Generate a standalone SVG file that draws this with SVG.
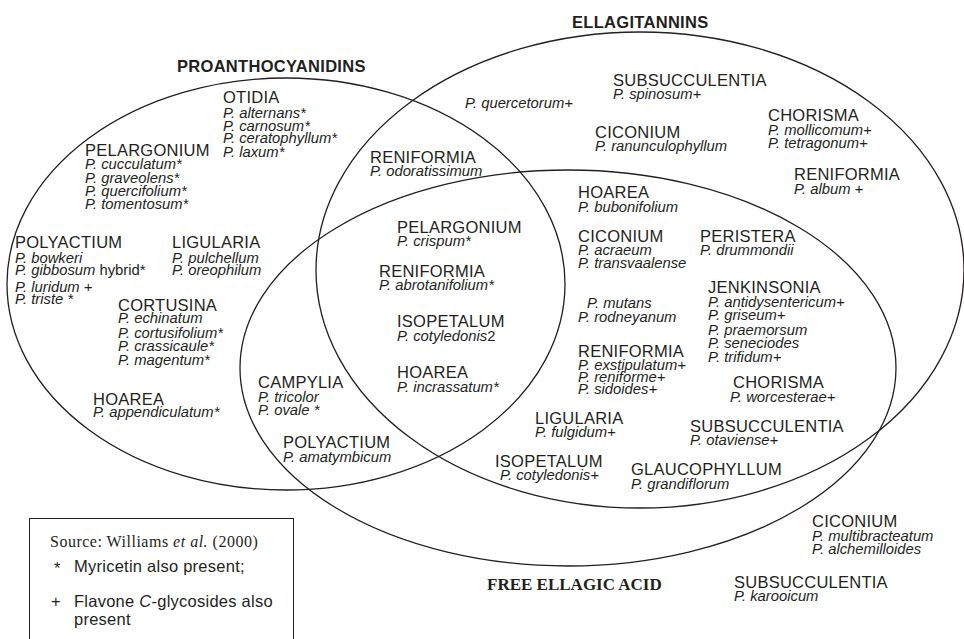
<svg xmlns="http://www.w3.org/2000/svg" width="964" height="639" viewBox="0 0 964 639">
<style>
text{fill:#231f20}
.h{font-family:"Liberation Sans",Arial,sans-serif;font-size:16.5px;letter-spacing:0.25px}
.s{font-family:"Liberation Sans",Arial,sans-serif;font-size:14.8px;font-style:italic}
.n{font-style:normal}
.t{font-family:"Liberation Sans",Arial,sans-serif;font-size:16.5px;font-weight:bold;letter-spacing:0.3px}
.ts{font-family:"Liberation Serif","Times New Roman",serif;font-size:17px;font-weight:bold}
.set{fill:none;stroke:#231f20;stroke-width:1.3}
.lg{font-family:"Liberation Sans",Arial,sans-serif;font-size:16.5px;letter-spacing:0.25px}
.src{font-family:"Liberation Serif","Times New Roman",serif;font-size:16px;letter-spacing:0.5px}
</style>
<g id="sets">
<ellipse id="proanthocyanidins" class="set" cx="286" cy="284" rx="279" ry="206"/>
<ellipse id="ellagitannins" class="set" cx="640" cy="270" rx="324" ry="238"/>
<ellipse id="free-ellagic-acid" class="set" cx="568" cy="368" rx="328" ry="198"/>
</g>
<g id="connectors"/>
<g id="titles">
<text class="t" x="177" y="72">PROANTHOCYANIDINS</text>
<text class="t" x="572" y="28">ELLAGITANNINS</text>
<text class="ts" x="487" y="590">FREE ELLAGIC ACID</text>
</g>
<g id="otidia"><text class="h" x="223" y="103">OTIDIA</text>
<text class="s" x="223" y="118">P. alternans*</text><text class="s" x="223" y="131">P. carnosum*</text><text class="s" x="223" y="143">P. ceratophyllum*</text><text class="s" x="223" y="157">P. laxum*</text></g>
<g id="pelargonium1"><text class="h" x="85" y="156">PELARGONIUM</text>
<text class="s" x="85" y="169">P. cucculatum*</text><text class="s" x="85" y="183">P. graveolens*</text><text class="s" x="85" y="196">P. quercifolium*</text><text class="s" x="85" y="209">P. tomentosum*</text></g>
<g id="quercetorum"><text class="s" x="465" y="108">P. quercetorum+</text></g>
<g id="subsucculentia1"><text class="h" x="613" y="86">SUBSUCCULENTIA</text><text class="s" x="613" y="99">P. spinosum+</text></g>
<g id="ciconium1"><text class="h" x="595" y="138">CICONIUM</text><text class="s" x="595" y="151">P. ranunculophyllum</text></g>
<g id="chorisma1"><text class="h" x="768" y="121">CHORISMA</text><text class="s" x="768" y="135">P. mollicomum+</text><text class="s" x="768" y="148">P. tetragonum+</text></g>
<g id="reniformia1"><text class="h" x="794" y="180">RENIFORMIA</text><text class="s" x="794" y="194">P. album +</text></g>
<g id="reniformia2"><text class="h" x="370" y="163">RENIFORMIA</text><text class="s" x="370" y="176">P. odoratissimum</text></g>
<g id="hoarea1"><text class="h" x="578" y="198">HOAREA</text><text class="s" x="578" y="212">P. bubonifolium</text></g>
<g id="pelargonium2"><text class="h" x="397" y="233">PELARGONIUM</text><text class="s" x="397" y="246">P. crispum*</text></g>
<g id="reniformia3"><text class="h" x="379" y="277">RENIFORMIA</text><text class="s" x="379" y="290">P. abrotanifolium*</text></g>
<g id="isopetalum1"><text class="h" x="397" y="327">ISOPETALUM</text><text class="s" x="397" y="341">P. cotyledonis<tspan class="n">2</tspan></text></g>
<g id="hoarea2"><text class="h" x="397" y="378">HOAREA</text><text class="s" x="397" y="392">P. incrassatum*</text></g>
<g id="ciconium2"><text class="h" x="578" y="242">CICONIUM</text><text class="s" x="578" y="255">P. acraeum</text><text class="s" x="578" y="268">P. transvaalense</text></g>
<g id="mutans"><text class="s" x="587" y="308">P. mutans</text><text class="s" x="578" y="322">P. rodneyanum</text></g>
<g id="reniformia4"><text class="h" x="578" y="357">RENIFORMIA</text><text class="s" x="578" y="370">P. exstipulatum+</text><text class="s" x="578" y="382">P. reniforme+</text><text class="s" x="578" y="394">P. sidoides+</text></g>
<g id="peristera"><text class="h" x="700" y="242">PERISTERA</text><text class="s" x="700" y="255">P. drummondii</text></g>
<g id="jenkinsonia"><text class="h" x="708" y="293">JENKINSONIA</text><text class="s" x="708" y="307">P. antidysentericum+</text><text class="s" x="708" y="320">P. griseum+</text><text class="s" x="708" y="335">P. praemorsum</text><text class="s" x="708" y="348">P. seneciodes</text><text class="s" x="708" y="362">P. trifidum+</text></g>
<g id="chorisma2"><text class="h" x="733" y="388">CHORISMA</text><text class="s" x="730" y="402">P. worcesterae+</text></g>
<g id="subsucculentia2"><text class="h" x="690" y="432">SUBSUCCULENTIA</text><text class="s" x="690" y="445">P. otaviense+</text></g>
<g id="glaucophyllum"><text class="h" x="631" y="475">GLAUCOPHYLLUM</text><text class="s" x="631" y="489">P. grandiflorum</text></g>
<g id="ligularia2"><text class="h" x="535" y="424">LIGULARIA</text><text class="s" x="535" y="437">P. fulgidum+</text></g>
<g id="isopetalum2"><text class="h" x="495" y="467">ISOPETALUM</text><text class="s" x="500" y="480">P. cotyledonis+</text></g>
<g id="polyactium2"><text class="h" x="283" y="448">POLYACTIUM</text><text class="s" x="283" y="462">P. amatymbicum</text></g>
<g id="ciconium3"><text class="h" x="812" y="527">CICONIUM</text><text class="s" x="812" y="541">P. multibracteatum</text><text class="s" x="812" y="554">P. alchemilloides</text></g>
<g id="subsucculentia3"><text class="h" x="734" y="588">SUBSUCCULENTIA</text><text class="s" x="734" y="601">P. karooicum</text></g>
<g id="polyactium1"><text class="h" x="15" y="248">POLYACTIUM</text><text class="s" x="15" y="263">P. bowkeri</text><text class="s" x="15" y="275">P. gibbosum<tspan class="n"> hybrid*</tspan></text><text class="s" x="15" y="292">P. luridum +</text><text class="s" x="15" y="304">P. triste *</text></g>
<g id="ligularia1"><text class="h" x="172" y="248">LIGULARIA</text><text class="s" x="172" y="263">P. pulchellum</text><text class="s" x="172" y="275">P. oreophilum</text></g>
<g id="cortusina"><text class="h" x="118" y="311">CORTUSINA</text><text class="s" x="118" y="323">P. echinatum</text><text class="s" x="118" y="338">P. cortusifolium*</text><text class="s" x="118" y="351">P. crassicaule*</text><text class="s" x="118" y="365">P. magentum*</text></g>
<g id="hoarea3"><text class="h" x="93" y="405">HOAREA</text><text class="s" x="93" y="417">P. appendiculatum*</text></g>
<g id="campylia"><text class="h" x="258" y="388">CAMPYLIA</text><text class="s" x="258" y="402">P. tricolor</text><text class="s" x="258" y="415">P. ovale *</text></g>
<g id="legend">
<rect x="29.5" y="518.5" width="264" height="140" fill="none" stroke="#231f20" stroke-width="1"/>
<text class="src" x="50" y="547">Source: Williams <tspan font-style="italic">et al.</tspan> (2000)</text>
<text class="lg" x="54" y="574">*</text>
<text class="lg" x="74" y="572">Myricetin also present;</text>
<text class="lg" x="51" y="607">+</text>
<text class="lg" x="74" y="607">Flavone <tspan font-style="italic">C</tspan>-glycosides also</text>
<text class="lg" x="74" y="625">present</text>
</g>
</svg>
